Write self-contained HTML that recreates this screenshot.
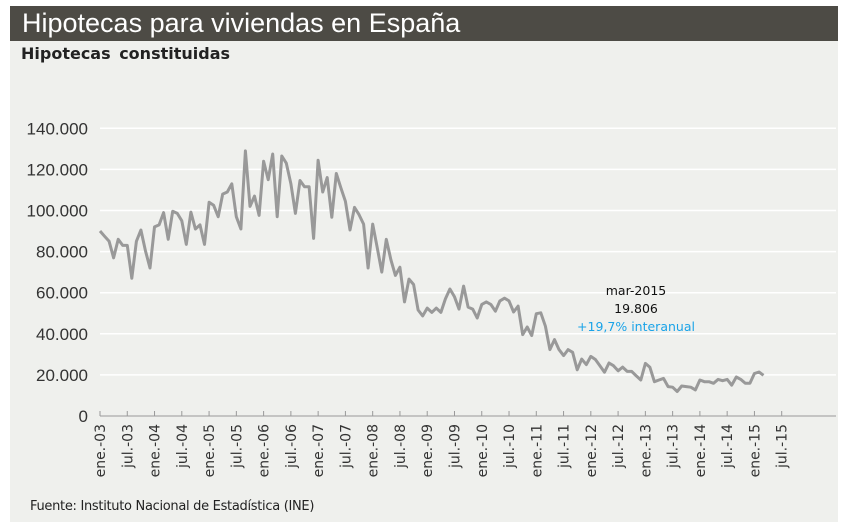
<!DOCTYPE html>
<html><head><meta charset="utf-8"><style>
body{margin:0;width:847px;height:526px;background:#fff;overflow:hidden;font-family:"Liberation Sans",sans-serif}
#panel{position:absolute;left:10px;top:6px;width:828px;height:516px;background:#eff0ed}
#bar{position:absolute;left:10px;top:6px;width:828px;height:35px;background:#4d4b45}
#title{position:absolute;left:22px;top:6px;color:#fff;font-size:27px;line-height:35px}
#sub{position:absolute;left:21px;top:44px;font-size:16px;font-weight:bold;color:#222;font-family:"DejaVu Sans",sans-serif;word-spacing:3px}
#src{position:absolute;left:30px;top:499px;font-size:13px;color:#222;font-family:"DejaVu Sans",sans-serif;letter-spacing:-0.3px}
svg{position:absolute;left:0;top:0}
</style></head><body>
<div id="panel"></div>
<div id="bar"></div>
<div id="title">Hipotecas para viviendas en España</div>
<div id="sub">Hipotecas constituidas</div>
<div id="src">Fuente: Instituto Nacional de Estadística (INE)</div>
<svg id="chart" width="847" height="526"></svg>
<script>
const yTicks=[0,20000,40000,60000,80000,100000,120000,140000];
const yTickLabels=["0","20.000","40.000","60.000","80.000","100.000","120.000","140.000"];
const xTickLabels=["ene.-03","jul.-03","ene.-04","jul.-04","ene.-05","jul.-05","ene.-06","jul.-06","ene.-07","jul.-07","ene.-08","jul.-08","ene.-09","jul.-09","ene.-10","jul.-10","ene.-11","jul.-11","ene.-12","jul.-12","ene.-13","jul.-13","ene.-14","jul.-14","ene.-15","jul.-15"];
const values=[
90,87.5,85,77,86,83,83,67,85,90.5,80.5,72,
92,93,99,86,99.6,98.6,95,83.5,99.2,91,93,83.5,
104,102.6,97,108,109,113,97,91,129,102,107,97.6,
124,115,127.5,97,126.5,123,113,98.6,114.6,111.6,111.6,86.4,
124.5,109,116,96.7,118,111,104.5,90.5,101.5,98,93.4,72,
93.4,82,70,86,76,68.4,72.4,55.5,66.6,64,51.6,48.7,
52.5,50.4,52.5,50.4,57,61.8,58,52,63.2,53,52,47.7,
54.3,55.5,54.3,51,56,57.3,56,50.6,53.5,39.6,43.3,39.1,
49.8,50.2,43.7,32.3,37.2,32.3,29.4,32.3,31,22.5,27.7,25,
29,27.5,24.5,21.3,25.8,24.5,22,23.8,21.7,21.7,19.5,17.5,
25.6,23.7,16.7,17.5,18.3,14.3,14,11.9,14.6,14.3,14,12.7,
17.5,16.7,16.7,15.9,17.8,17.2,17.8,15,19,17.8,15.9,15.9,
20.7,21.4,19.806].map(v=>v*1000);
const annLines=["mar-2015","19.806","+19,7% interanual"];

const svg=document.getElementById('chart');
const NS='http://www.w3.org/2000/svg';
const x0=100,x1=781.7,y0=416,y1=128.3;
const xMonth=i=>x0+i*(x1-x0)/150;
const yScale=v=>y0-(v/140000)*(y0-y1);
function mk(t,a){const e=document.createElementNS(NS,t);for(const k in a)e.setAttribute(k,a[k]);svg.appendChild(e);return e;}
yTicks.forEach((t,i)=>{
 if(t>0){const g=mk('line',{x1:100,x2:836,y1:yScale(t),y2:yScale(t),stroke:'#fff','stroke-width':1.5});
 
 }
 const l=mk('text',{x:88,y:yScale(t)+6,'text-anchor':'end','font-size':17,fill:'#333','font-family':'Liberation Sans, sans-serif'});
 l.textContent=yTickLabels[i];
 
 
});
const ax=mk('line',{x1:100,x2:836,y1:y0,y2:y0,stroke:'#999','stroke-width':1});


xTickLabels.forEach((s,i)=>{
 const x=xMonth(i*6);
 const t=mk('line',{x1:x,x2:x,y1:y0,y2:y0-5,stroke:'#999'});
 
 
 const l=mk('text',{x:0,y:0,'text-anchor':'end','font-size':14,fill:'#333','font-family':'DejaVu Sans, sans-serif',transform:`translate(${x+5},424) rotate(-90)`});
 l.textContent=s;
 
 
});
const pts=values.map((v,i)=>xMonth(i).toFixed(1)+','+yScale(v).toFixed(1)).join(' ');
const p=mk('polyline',{points:pts,fill:'none',stroke:'#999','stroke-width':3,'stroke-linejoin':'round'});


const ac=['#111','#111','#1aa3e8'];
annLines.forEach((s,i)=>{
 const t=mk('text',{x:636,y:295+i*18,'text-anchor':'middle','font-size':12.5,fill:ac[i],'font-family':'DejaVu Sans, sans-serif'});
 t.textContent=s;
 
 
});
</script>
</body></html>
